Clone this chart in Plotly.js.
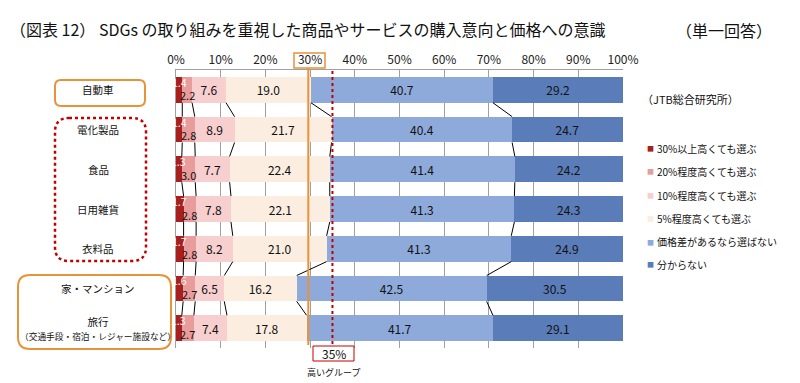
<!DOCTYPE html>
<html>
<head>
<meta charset="utf-8">
<script src="https://cdn.plot.ly/plotly-3.0.1.min.js"></script>
<style>html,body{margin:0;padding:0;background:#fff;}#chart{width:800px;height:383px;}</style>
</head>
<body>
<div id="chart"></div>
<script>
// ---- data ----
const categories = ['自動車', '電化製品', '食品', '日用雑貨', '衣料品', '家・マンション', '旅行'];
const categoryNotes = ['', '', '', '', '', '', '（交通手段・宿泊・レジャー施設など）'];
const seriesNames = ['30%以上高くても選ぶ', '20%程度高くても選ぶ', '10%程度高くても選ぶ', '5%程度高くても選ぶ', '価格差があるなら選ばない', '分からない'];
const s30 = [1.4, 1.4, 1.3, 1.7, 1.7, 1.6, 1.3];
const s20 = [2.2, 2.8, 3.0, 2.8, 2.8, 2.7, 2.7];
const s10 = [7.6, 8.9, 7.7, 7.8, 8.2, 6.5, 7.4];
const s5 = [19.0, 21.7, 22.4, 22.1, 21.0, 16.2, 17.8];
const sNo = [40.7, 40.4, 41.4, 41.3, 41.3, 42.5, 41.7];
const sDk = [29.2, 24.7, 24.2, 24.3, 24.9, 30.5, 29.1];
const tickVals = [0, 10, 20, 30, 40, 50, 60, 70, 80, 90, 100];
const tickText = ['0%', '10%', '20%', '30%', '40%', '50%', '60%', '70%', '80%', '90%', '100%'];
const groupLine = 29.6;      // 30% group line
const highLine = 35;         // 35% high group line
const highLabel = '35%';
const highText = '高いグループ';
const titleText = '（図表 12） SDGs の取り組みを重視した商品やサービスの購入意向と価格への意識';
const answerText = '（単一回答）';
const sourceText = '（JTB総合研究所）';

// ---- style ----
const FONT = '"Noto Sans CJK JP", "Noto Sans", sans-serif';
const colors = ['#A8201E', '#E89C9C', '#F7CFCF', '#FBEDE0', '#8EAADB', '#5A7CB8'];
const W = 800, H = 383, L = 176, R = 623, T = 70, B = 348;
const px2x = p => (p - L) / (R - L);
const py2y = p => (B - p) / (B - T);

const series = [s30, s20, s10, s5, sNo, sDk];
const yIdx = categories.map((_, i) => i);
const halfBar = 0.325;

const traces = series.map((vals, k) => ({
  type: 'bar', orientation: 'h', y: yIdx, x: vals, name: seriesNames[k],
  width: halfBar * 2,
  marker: {color: colors[k], line: {width: 0}},
  text: vals.map(v => v.toFixed(1)),
  textposition: k < 2 ? 'none' : 'inside',
  insidetextanchor: 'middle',
  constraintext: 'none',
  textfont: {family: FONT, size: 12, color: '#111'},
  hoverinfo: 'skip', showlegend: false
}));

// series connector lines
const cum = [];
let run = categories.map(() => 0);
for (let k = 0; k < series.length - 1; k++) {
  run = run.map((r, i) => r + series[k][i]);
  cum.push(run.slice());
}
const lx = [], ly = [];
cum.forEach(c => {
  for (let i = 0; i < categories.length - 1; i++) {
    lx.push(c[i], c[i + 1], null);
    ly.push(i + halfBar, i + 1 - halfBar, null);
  }
});
traces.push({type: 'scatter', mode: 'lines', x: lx, y: ly, line: {color: '#000', width: 1}, hoverinfo: 'skip', showlegend: false});

// rounded rect path in paper coords
function rrect(x0, y0, x1, y1, r) {
  const P = (x, y) => px2x(x).toFixed(5) + ',' + py2y(y).toFixed(5);
  return 'M' + P(x0 + r, y0) + ' L' + P(x1 - r, y0) + ' Q' + P(x1, y0) + ' ' + P(x1, y0 + r) +
    ' L' + P(x1, y1 - r) + ' Q' + P(x1, y1) + ' ' + P(x1 - r, y1) +
    ' L' + P(x0 + r, y1) + ' Q' + P(x0, y1) + ' ' + P(x0, y1 - r) +
    ' L' + P(x0, y0 + r) + ' Q' + P(x0, y0) + ' ' + P(x0 + r, y0) + ' Z';
}

const ORANGE = '#E8923A', RED = '#C00000';
const shapes = [
  {type: 'path', xref: 'paper', yref: 'paper', path: rrect(55, 80, 145, 106, 6), line: {color: ORANGE, width: 2}},
  {type: 'path', xref: 'paper', yref: 'paper', path: rrect(55, 118, 146, 261, 14), line: {color: RED, width: 2.5, dash: 'dot'}},
  {type: 'path', xref: 'paper', yref: 'paper', path: rrect(18, 275, 171, 349, 12), line: {color: ORANGE, width: 2}},
  {type: 'line', xref: 'paper', yref: 'paper', x0: groupLine / 100, x1: groupLine / 100, y0: py2y(68), y1: py2y(345), line: {color: ORANGE, width: 2}, layer: 'above'},
  {type: 'rect', xref: 'paper', yref: 'paper', x0: px2x(294), x1: px2x(325), y0: py2y(68), y1: py2y(53), line: {color: ORANGE, width: 1.5}, fillcolor: 'rgba(0,0,0,0)'},
  {type: 'line', xref: 'paper', yref: 'paper', x0: highLine / 100, x1: highLine / 100, y0: py2y(71), y1: py2y(346), line: {color: RED, width: 2, dash: 'dot'}, layer: 'above'},
  {type: 'rect', xref: 'paper', yref: 'paper', x0: px2x(313), x1: px2x(354), y0: py2y(361), y1: py2y(346), line: {color: RED, width: 1}, fillcolor: '#fff', layer: 'above'}
];

const annotations = [];
// category labels
categories.forEach((c, i) => {
  const txt = categoryNotes[i] ? c + '<br><span style="font-size:8.7px">' + categoryNotes[i] + '</span>' : c;
  annotations.push({xref: 'paper', yref: 'y', x: px2x(98), y: i, text: txt, showarrow: false, xanchor: 'center', yanchor: 'middle', font: {family: FONT, size: 10.5, color: '#111'}});
});
// small-segment labels
yIdx.forEach(i => {
  annotations.push({xref: 'x', yref: 'y', x: s30[i] / 2, y: i, yshift: 7.5, text: s30[i].toFixed(1), showarrow: false, borderpad: 0, font: {family: FONT, size: 10.5, color: '#fff'}});
  annotations.push({xref: 'x', yref: 'y', x: s30[i] + s20[i] / 2, y: i, yshift: -5.5, text: s20[i].toFixed(1), showarrow: false, borderpad: 0, font: {family: FONT, size: 11, color: '#111'}});
});
// legend
const legY = [148, 171, 195, 218, 242, 264];
seriesNames.forEach((n, k) => {
  annotations.push({xref: 'paper', yref: 'paper', x: px2x(650), y: py2y(legY[k]), text: '■', showarrow: false, xanchor: 'center', yanchor: 'middle', font: {family: FONT, size: 7, color: colors[k]}});
  annotations.push({xref: 'paper', yref: 'paper', x: px2x(655), y: py2y(legY[k]), text: n, showarrow: false, xanchor: 'left', yanchor: 'middle', font: {family: FONT, size: 10, color: '#111'}});
});
annotations.push({xref: 'paper', yref: 'paper', x: px2x(640), y: py2y(99), text: sourceText, showarrow: false, xanchor: 'left', yanchor: 'middle', font: {family: FONT, size: 11, color: '#111'}});
annotations.push({xref: 'paper', yref: 'paper', x: px2x(674), y: py2y(30), text: answerText, showarrow: false, xanchor: 'left', yanchor: 'middle', font: {family: FONT, size: 16, color: '#111'}});
annotations.push({xref: 'paper', yref: 'paper', x: px2x(334), y: py2y(353.5), text: highLabel, showarrow: false, xanchor: 'center', yanchor: 'middle', font: {family: FONT, size: 12, color: '#111'}});
annotations.push({xref: 'paper', yref: 'paper', x: px2x(333), y: py2y(372), text: highText, showarrow: false, xanchor: 'center', yanchor: 'middle', font: {family: FONT, size: 9, color: '#111'}});

const layout = {
  width: W, height: H,
  margin: {l: L, r: W - R, t: T, b: H - B, pad: 0},
  paper_bgcolor: '#fff', plot_bgcolor: '#fff',
  barmode: 'stack',
  showlegend: false,
  font: {family: FONT, color: '#111'},
  title: {text: titleText, x: 10 / W, xanchor: 'left', xref: 'container', y: 1 - 30 / H, yanchor: 'middle', yref: 'container', font: {family: FONT, size: 16, color: '#111'}},
  xaxis: {range: [0, 100], side: 'top', tickvals: tickVals, ticktext: tickText, showgrid: true, gridcolor: '#A0A0A0', gridwidth: 1,
    showline: true, linecolor: '#A0A0A0', linewidth: 1, zeroline: false, ticks: '', tickfont: {family: FONT, size: 12, color: '#222'}, fixedrange: true},
  yaxis: {range: [categories.length - 0.5, -0.5], showticklabels: false, showgrid: false, zeroline: false, showline: true, linecolor: '#A0A0A0', linewidth: 1, ticks: '', fixedrange: true},
  shapes: shapes,
  annotations: annotations
};

Plotly.newPlot('chart', traces, layout, {displayModeBar: false, staticPlot: true});
</script>
</body>
</html>
